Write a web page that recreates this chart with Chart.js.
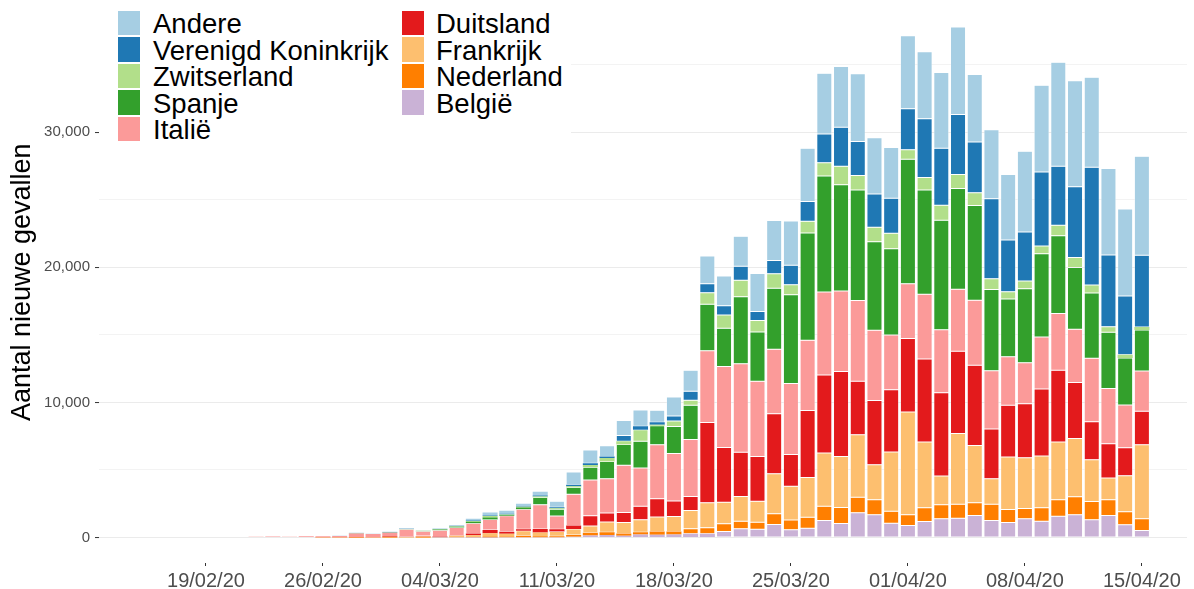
<!DOCTYPE html>
<html><head><meta charset="utf-8">
<script src="https://cdn.jsdelivr.net/npm/chart.js@4.4.1/dist/chart.umd.min.js"></script>
<style>
html,body{margin:0;padding:0;background:#fff;}
#wrap{position:relative;width:1194px;height:589px;overflow:hidden;}
#legend{position:absolute;left:99px;top:0;width:472px;height:147px;background:#fff;font-family:"Liberation Sans",Arial,sans-serif;font-size:27.5px;color:#000;}
.item{position:absolute;height:26.6px;width:280px;}
.sw{position:absolute;left:0;top:1.2px;width:22px;height:24.3px;}
.lab{position:absolute;top:1.5px;white-space:nowrap;line-height:26.6px;}
</style></head>
<body><div id="wrap"><canvas id="c" width="1194" height="589"></canvas><div id="legend"></div></div>
<script>
const dates = ['2020-02-22','2020-02-23','2020-02-24','2020-02-25','2020-02-26','2020-02-27','2020-02-28','2020-02-29',
 '2020-03-01','2020-03-02','2020-03-03','2020-03-04','2020-03-05','2020-03-06','2020-03-07','2020-03-08','2020-03-09','2020-03-10',
 '2020-03-11','2020-03-12','2020-03-13','2020-03-14','2020-03-15','2020-03-16','2020-03-17','2020-03-18','2020-03-19','2020-03-20',
 '2020-03-21','2020-03-22','2020-03-23','2020-03-24','2020-03-25','2020-03-26','2020-03-27','2020-03-28','2020-03-29','2020-03-30','2020-03-31',
 '2020-04-01','2020-04-02','2020-04-03','2020-04-04','2020-04-05','2020-04-06','2020-04-07','2020-04-08','2020-04-09','2020-04-10',
 '2020-04-11','2020-04-12','2020-04-13','2020-04-14','2020-04-15'];

const andere = [0,9,5,10,7,9,25,8, 37,20,18,53,29,120,222,222,173,280, 450,940,980,800,1100,1210,889,1407,1555,2049,
 2197,2222,2815,2963,3284,3951,4494,4494,5012,4173,3753, 5407,4963,5605,6469,5012,5111,4840,5975,6420,7704, 7852,6667,6395,6444,7333];
const verenigdKoninkrijk = [0,0,0,0,0,0,5,0, 12,12,4,12,34,40,49,49,49,60, 70,120,123,100,430,250,198,370,667,667,
 691,1037,667,988,1432,1457,2123,2889,2519,2469,2593, 3037,4346,4222,4444,3753,5926,3827,3630,5481,4370, 5235,8716,5309,4346,5309];
const zwitserland = [0,0,0,0,0,1,10,5, 8,6,12,14,27,60,100,40,50,80, 90,90,170,270,250,864,74,420,370,864,
 988,1235,864,1062,741,864,988,1358,1062,1062,1136, 691,938,1111,1037,938,790,543,568,568,765, 741,593,420,247,222];
const spanje = [0,0,0,0,3,10,20,10, 17,13,31,45,57,100,150,60,123,540, 500,500,940,1260,1530,1975,1400,1987,2538,3431,
 2833,4946,3646,4517,6584,7937,8578,7871,8189,6549,6398, 9222,7719,8102,7472,7026,6023,4273,5478,6180,5756, 4576,4830,4167,3477,3045];
const italie = [50,65,45,90,80,78,250,238, 240,566,342,466,587,769,778,1180,1492,1797, 977,2313,2651,2547,3497,2823,4000,3526,4207,5322,
 5986,6557,5560,4789,5249,5210,6153,5959,5974,5217,4050, 4053,4782,4668,4585,4805,4316,3599,3039,3836,4204, 3951,4694,4092,3153,2972];
const duitsland = [0,0,0,0,6,20,15,6, 57,20,46,36,28,130,247,150,100,250, 160,270,765,660,740,1012,1358,1144,1042,5940,
 4049,3276,3311,4438,2342,4954,5780,6294,3965,4751,4615, 5453,6156,6174,6082,5936,3677,3834,4003,4974,5323, 4133,2821,2537,2082,2486];
const frankrijk = [0,0,0,0,4,5,20,5, 43,20,61,21,73,140,247,200,380,290, 360,430,494,760,810,914,1062,1111,1358,1852,
 1605,1827,1555,2963,2500,2938,3926,3778,4617,2593,4370, 7605,4864,2123,5235,4247,1877,3877,3753,3827,4272, 4321,3086,1605,2667,5481];
const nederland = [0,0,0,0,0,0,1,0, 6,8,5,14,44,20,60,60,100,70, 60,130,200,210,170,173,247,222,370,444,
 568,568,518,790,720,815,1062,1185,1160,1111,889, 790,1012,1037,1037,938,1210,963,765,988,1210, 1333,1358,1160,963,864];
const belgie = [0,0,0,0,0,0,0,0, 0,0,0,6,10,3,5,14,25,15, 24,60,150,180,130,222,198,222,272,272,
 444,642,617,963,580,691,1259,1037,1827,1679,1062, 889,1185,1383,1432,1630,1259,1111,1383,1210,1580, 1679,1309,1630,938,519];

const tickDates = ['2020-02-19','2020-02-26','2020-03-04','2020-03-11','2020-03-18','2020-03-25','2020-04-01','2020-04-08','2020-04-15'];
const tickLabels = ['19/02/20','26/02/20','04/03/20','11/03/20','18/03/20','25/03/20','01/04/20','08/04/20','15/04/20'];
const yTickValues = [0,5000,10000,15000,20000,25000,30000,35000];

const FONT = '"Liberation Sans", Arial, sans-serif';
Chart.defaults.font.family = FONT;

const series = [
  {label:'België', data:belgie, color:'#CAB2D6'},
  {label:'Nederland', data:nederland, color:'#FF7F00'},
  {label:'Frankrijk', data:frankrijk, color:'#FDBF6F'},
  {label:'Duitsland', data:duitsland, color:'#E31A1C'},
  {label:'Italië', data:italie, color:'#FB9A99'},
  {label:'Spanje', data:spanje, color:'#33A02C'},
  {label:'Zwitserland', data:zwitserland, color:'#B2DF8A'},
  {label:'Verenigd Koninkrijk', data:verenigdKoninkrijk, color:'#1F78B4'},
  {label:'Andere', data:andere, color:'#A6CEE3'}
];

const base = Date.UTC(2020,1,19);
function dayOffset(iso){ const p = iso.split('-').map(Number); return Math.round((Date.UTC(p[0],p[1]-1,p[2]) - base)/86400000); }

let maxStack = 0;
dates.forEach((d,i)=>{ let s=0; series.forEach(se=>{ s += se.data[i]; }); maxStack = Math.max(maxStack, s); });
const yMax = maxStack*1.05, yMin = -maxStack*0.05;

const datasets = series.map(se => ({
  label: se.label,
  data: dates.map((d,i)=>({x: dayOffset(d), y: se.data[i] > 0 ? se.data[i] : null})),
  backgroundColor: se.color,
  borderColor: 'rgba(255,255,255,0.85)',
  borderWidth: ctx => (ctx.raw && ctx.raw.y !== null && ctx.raw.y < 300 ? 0 : 0.5),
  borderSkipped: false,
  barPercentage: 0.9,
  categoryPercentage: 1.0
}));

new Chart(document.getElementById('c'), {
  type: 'bar',
  data: { datasets },
  options: {
    responsive: false, animation: false, devicePixelRatio: 1,
    layout: { padding: { top: 1.5, right: 7, left: 0, bottom: 0 }, autoPadding: false },
    plugins: { legend: { display: false }, tooltip: { enabled: false } },
    scales: {
      x: {
        type: 'linear', stacked: true, min: -6.4, max: 58.7, offset: false,
        afterBuildTicks: s => { s.ticks = tickDates.map(d => ({ value: dayOffset(d) })); },
        afterFit: s => { s.height = 26; s.paddingLeft = 0; s.paddingRight = 0; s.paddingTop = 0; s.paddingBottom = 0; },
        ticks: { autoSkip: false, maxRotation: 0, minRotation: 0, padding: 3, color: '#4D4D4D',
          font: { size: 20 },
          callback: v => { const i = tickDates.findIndex(d => dayOffset(d) === v); return i >= 0 ? tickLabels[i] : ''; } },
        grid: { drawOnChartArea: false, drawTicks: true, tickLength: 3, tickColor: '#333333', tickWidth: 1, offset: false },
        border: { display: false }
      },
      y: {
        type: 'linear', stacked: true, min: yMin, max: yMax,
        afterBuildTicks: s => { s.ticks = yTickValues.map(v => ({ value: v })); },
        afterFit: s => { s.width = 99; s.paddingTop = 0; s.paddingBottom = 0; s.paddingLeft = 0; s.paddingRight = 0; },
        ticks: { padding: 5, color: '#4D4D4D', font: { size: 15 },
          callback: v => (v % 10000 === 0 ? v.toLocaleString('en-US') : '') },
        grid: { color: '#EBEBEB',
          lineWidth: ctx => (ctx.tick && ctx.tick.value % 10000 === 0 ? 1.1 : 0.6),
          tickLength: 4,
          tickColor: ctx => (ctx.tick && ctx.tick.value % 10000 === 0 ? '#333333' : 'rgba(0,0,0,0)'),
          tickWidth: 1 },
        border: { display: false },
        title: { display: true, text: 'Aantal nieuwe gevallen', color: '#000', font: { size: 27 }, padding: { top: 6, bottom: 0 } }
      }
    }
  }
});

// legend (two columns, top of stack first)
const legendOrder = series.slice().reverse();
const leg = document.getElementById('legend');
legendOrder.forEach((se, k) => {
  const col = k < 5 ? 0 : 1, row = k < 5 ? k : k - 5;
  const it = document.createElement('div');
  it.className = 'item';
  it.style.left = (col === 0 ? 19 : 303) + 'px';
  it.style.top = (9.5 + 26.6*row) + 'px';
  const sw = document.createElement('div'); sw.className = 'sw'; sw.style.background = se.color;
  const lb = document.createElement('div'); lb.className = 'lab'; lb.style.left = (col === 0 ? 35 : 34) + 'px'; lb.textContent = se.label;
  it.appendChild(sw); it.appendChild(lb); leg.appendChild(it);
});
</script>
</body></html>
